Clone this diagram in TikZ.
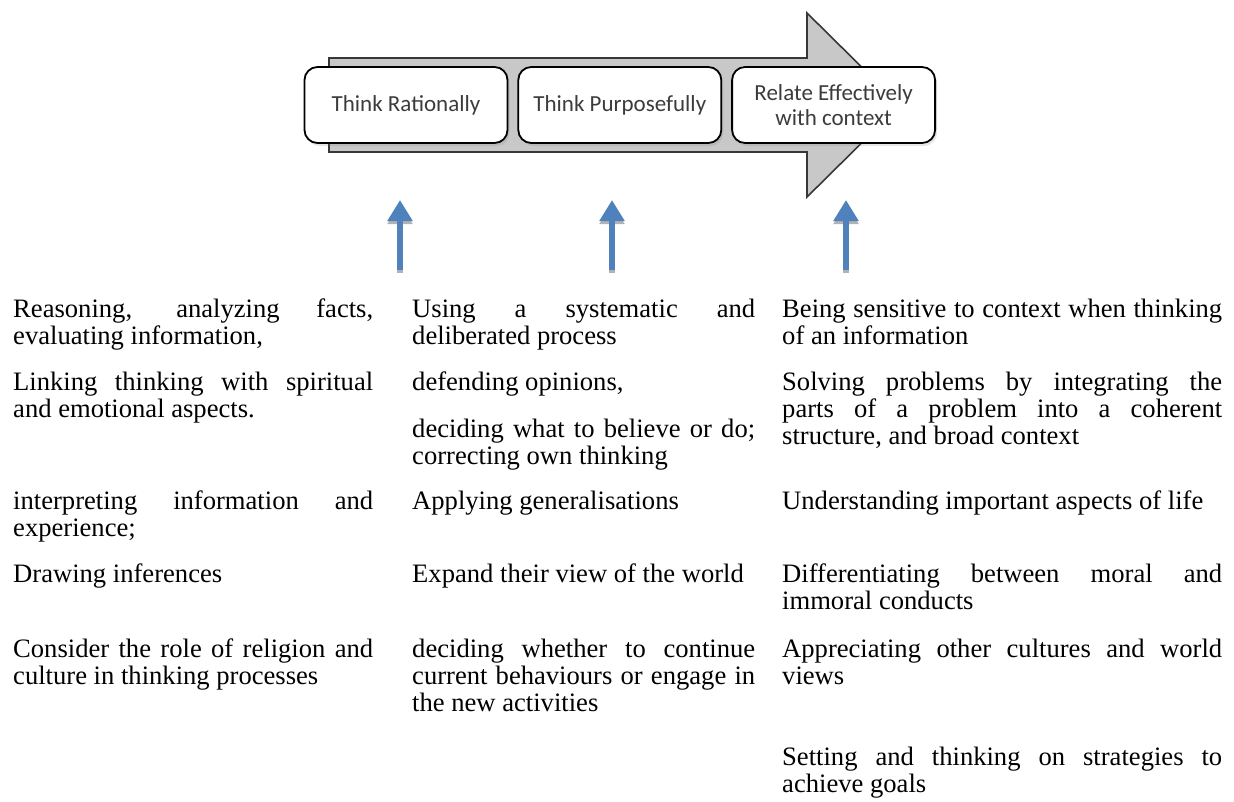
\documentclass[tikz,border=0pt]{standalone}
\usepackage{fontspec}
\setmainfont{Liberation Serif}
\newfontfamily\boxfont{Carlito}
\usetikzlibrary{positioning,shadows,arrows.meta}
\hyphenpenalty=10000
\exhyphenpenalty=10000

\definecolor{arrowgray}{RGB}{200,200,200}
\definecolor{edgegray}{RGB}{55,55,55}
\definecolor{upblue}{RGB}{79,129,189}
\definecolor{boxtext}{RGB}{60,60,60}

\begin{document}
\begin{tikzpicture}[x=1pt,y=-1pt,
  stage/.style={draw=black,line width=1.8pt,rounded corners=13pt,fill=white,
    minimum width=203pt,minimum height=76pt,inner sep=0pt,align=center,text=boxtext,
    font=\boxfont\fontsize{23}{24.5}\selectfont,
    drop shadow={opacity=0.2,shadow xshift=2pt,shadow yshift=-3pt}},
  cell/.style={anchor=base west,inner sep=0pt,align=justify,
    font=\fontsize{26.6}{27}\selectfont},
  colA/.style={cell,text width=360pt},
  colB/.style={cell,text width=343pt},
  colC/.style={cell,text width=440pt},
  uparrow/.style={line width=5.5pt,draw=upblue,-{Triangle[width=24pt,length=21pt]}},
  upshadow/.style={uparrow,draw=gray!60,transform canvas={yshift=-3pt}}]
 \useasboundingbox (0,0) rectangle (1234,801);

 \draw[edgegray,line width=1.6pt,fill=arrowgray,line join=miter]
   (329,58)--(807,58)--(807,13)--(900,105)--(807,197)--(807,152)--(329,152)--cycle;

 \node[stage] (rational) at (406,105) {Think Rationally};
 \node[stage,right=9pt of rational] (purpose) {Think Purposefully};
 \node[stage,right=9pt of purpose] (relate) {Relate Effectively\\with context};

 \coordinate (tail1) at (400,270); \coordinate (tip1) at (400,200);
 \coordinate (tail2) at (612,270); \coordinate (tip2) at (612,200);
 \coordinate (tail3) at (846,270); \coordinate (tip3) at (846,200);
 \foreach \i in {1,2,3}{
   \draw[upshadow] (tail\i)--(tip\i);
   \draw[uparrow] (tail\i)--(tip\i);
 }

 \node[colA] (reason) at (13,317) {Reasoning, analyzing facts,\linebreak evaluating information,};
 \node[colA] (link) at (13,390) {Linking thinking with spiritual\linebreak and emotional aspects.};
 \node[colA] (interp) at (13,509) {interpreting information and\linebreak experience;};
 \node[colA] (infer) at (13,582) {Drawing inferences};
 \node[colA] (religion) at (13,657) {Consider the role of religion and\linebreak culture in thinking processes};

 \node[colB] (system) at (412,317) {Using a systematic and\linebreak deliberated process};
 \node[colB] (defend) at (412,390) {defending opinions,};
 \node[colB] (believe) at (412,437) {deciding what to believe or do;\linebreak correcting own thinking};
 \node[colB] (general) at (412,509) {Applying generalisations};
 \node[colB] (expand) at (412,582) {Expand their view of the world};
 \node[colB] (continue) at (412,657) {deciding whether to continue\linebreak current behaviours or engage in\linebreak the new activities};

 \node[colC] (sensitive) at (782,317) {Being sensitive to context when thinking\linebreak of an information};
 \node[colC] (solve) at (782,390) {Solving problems by integrating the\linebreak parts of a problem into a coherent\linebreak structure, and broad context};
 \node[colC] (life) at (782,509) {Understanding important aspects of life};
 \node[colC] (moral) at (782,582) {Differentiating between moral and\linebreak immoral conducts};
 \node[colC] (culture) at (782,657) {Appreciating other cultures and world\linebreak views};
 \node[colC] (goals) at (782,765) {Setting and thinking on strategies to\linebreak achieve goals};
\end{tikzpicture}
\end{document}
